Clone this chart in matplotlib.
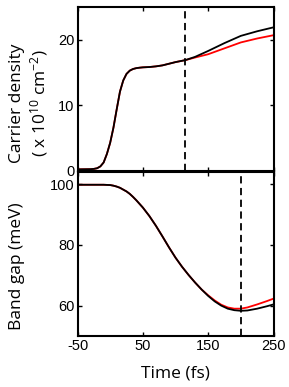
import matplotlib
matplotlib.use("Agg")
import matplotlib.pyplot as plt

plt.rcParams["axes.unicode_minus"] = False
plt.rcParams["mathtext.fontset"] = "custom"
plt.rcParams["mathtext.rm"] = "Open Sans"
plt.rcParams["mathtext.it"] = "Open Sans:italic"
plt.rcParams["mathtext.default"] = "rm"

# ---- data ----
t_top = [-50, -30, -25, -20, -15, -10, -5, 0, 5, 10, 15, 20, 25, 30, 35, 40, 45, 50, 60, 70,
         80, 90, 100, 115, 130, 150, 175, 200, 225, 250]
dens_black = [0.25, 0.28, 0.32, 0.42, 0.7, 1.3, 2.6, 4.3, 6.6, 9.4, 12.1, 13.8, 14.8, 15.3,
              15.55, 15.68, 15.75, 15.8, 15.85, 15.95, 16.1, 16.35, 16.6, 16.9, 17.4, 18.3,
              19.5, 20.6, 21.3, 21.9]
dens_red = [0.25, 0.28, 0.32, 0.42, 0.7, 1.3, 2.6, 4.3, 6.6, 9.4, 12.1, 13.8, 14.8, 15.3,
            15.55, 15.68, 15.75, 15.8, 15.85, 15.95, 16.1, 16.35, 16.6, 16.9, 17.3, 17.8,
            18.7, 19.6, 20.2, 20.7]

t_bot = [-50, -10, 0, 5, 10, 15, 20, 25, 30, 35, 40, 50, 60, 70, 80, 90, 100, 110, 120, 130,
         140, 150, 160, 170, 180, 190, 200, 210, 225, 240, 250]
gap_black = [99.8, 99.8, 99.7, 99.5, 99.2, 98.8, 98.2, 97.6, 96.8, 95.8, 94.7, 92.3, 89.5,
             86.3, 82.8, 79.2, 75.8, 72.8, 70.1, 67.6, 65.3, 63.2, 61.4, 60.0, 59.0, 58.5,
             58.3, 58.4, 59.0, 59.8, 60.4]
gap_red = [99.8, 99.8, 99.7, 99.5, 99.2, 98.8, 98.2, 97.6, 96.8, 95.8, 94.7, 92.3, 89.5,
           86.3, 82.8, 79.2, 75.8, 72.8, 70.1, 67.6, 65.3, 63.4, 61.7, 60.3, 59.4, 59.0,
           59.0, 59.4, 60.4, 61.5, 62.3]

vline_top = 115
vline_bot = 200
xticks = [-50, 50, 150, 250]
yticks_top = [0, 10, 20]
yticks_bot = [60, 80, 100]

# ---- figure ----
W, H = 289, 387
fig = plt.figure(figsize=(W / 100, H / 100), dpi=100)
left = 77.5 / W
width = 196 / W
ax1 = fig.add_axes([left, (H - 171) / H, width, 164 / H])
ax2 = fig.add_axes([left, (H - 336) / H, width, 164 / H])

lw = 1.3
ax1.plot(t_top, dens_red, color="red", lw=lw)
ax1.plot(t_top, dens_black, color="black", lw=lw)
ax1.axvline(vline_top, color="black", lw=1.3, ls=(0, (4, 2.5)))
ax2.plot(t_bot, gap_red, color="red", lw=lw)
ax2.plot(t_bot, gap_black, color="black", lw=lw)
ax2.axvline(vline_bot, color="black", lw=1.3, ls=(0, (4, 2.5)))

ax1.set_xlim(-50, 250)
ax2.set_xlim(-50, 250)
ax1.set_ylim(0, 25)
ax2.set_ylim(50, 104)
ax1.set_xticks(xticks)
ax2.set_xticks(xticks)
ax1.set_xticklabels([])
ax1.set_yticks(yticks_top)
ax2.set_yticks(yticks_bot)

tickfont = "Liberation Sans"
for ax in (ax1, ax2):
    for s in ax.spines.values():
        s.set_linewidth(1.5)
    ax.tick_params(direction="in", length=3, width=1, top=True, right=True,
                   labelsize=10.5, pad=2)
    for lab in ax.get_xticklabels() + ax.get_yticklabels():
        lab.set_family(tickfont)

labfont = "Open Sans"
fs = 12.5
fig.text(17 / W, 1 - 103 / H, "Carrier density", rotation=90, ha="center", va="center",
         fontsize=fs, family=labfont)
fig.text(39 / W, 1 - 103 / H, "( x 10$^{10}$ cm$^{-2}$)", rotation=90, ha="center",
         va="center", fontsize=fs, family=labfont)
fig.text(17 / W, 1 - 266 / H, "Band gap (meV)", rotation=90, ha="center", va="center",
         fontsize=fs, family=labfont)
fig.text(175 / W, 1 - 373 / H, "Time (fs)", ha="center", va="center",
         fontsize=fs, family=labfont)

fig.savefig("out.png", dpi=100)
